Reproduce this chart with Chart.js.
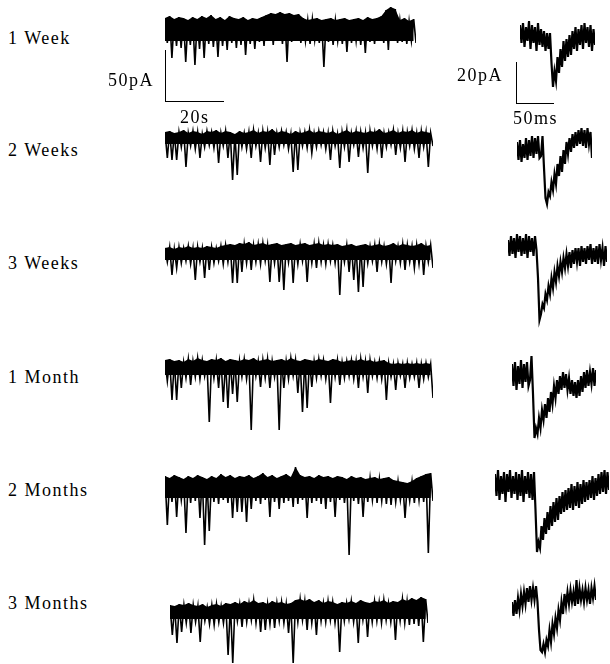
<!DOCTYPE html>
<html>
<head>
<meta charset="utf-8">
<script src="https://cdn.jsdelivr.net/npm/chart.js@4.4.0/dist/chart.umd.min.js"></script>
<style>
  body { margin: 0; width: 610px; height: 664px; overflow: hidden; background: #fff; position: relative;
         font-family: "Liberation Serif", "Times New Roman", serif; }
  .lbl { position: absolute; font-size: 18px; letter-spacing: 1.5px; color: #000; white-space: nowrap; line-height: 18px; }
  canvas { position: absolute; }
  .bar { position: absolute; border-left: 1.5px solid #000; border-bottom: 1.5px solid #000; }
</style>
</head>
<body>
<div id="page"></div>
<script>
// row names
var rowLabels = ["1 Week", "2 Weeks", "3 Weeks", "1 Month", "2 Months", "3 Months"];
var scaleLabels = ["50pA", "20s", "20pA", "50ms"];

// long recordings (pA, relative to the top of the noise band)
var week1Trace = [1,-24,3,-39,0,-27,2,-29,1,-43,
  -1,-26,2,-46,0,-30,3,-39,1,-25,
  4,-28,0,-38,2,-27,-1,-31,3,-24,
  1,-29,0,-26,2,-36,-1,-25,1,-30,
  0,-23,2,-27,4,-22,6,-26,5,-21,
  7,-25,5,-43,6,-23,4,-20,5,-24,
  1,-22,-1,-25,0,-21,1,-24,-1,-48,
  0,-23,1,-26,-1,-22,0,-25,1,-33,
  -1,-24,0,-22,1,-26,-1,-34,2,-23,
  0,-25,1,-22,3,-24,9,-31,12,-20,
  10,-24,-1,-23,1,-25,-2,-22,0,-24];
var weeks2Trace = [1,-25,2,-27,0,-27,1,-14,3,-34,
  0,-13,2,-16,1,-25,-1,-14,2,-12,
  1,-15,3,-30,0,-13,2,-25,1,-47,
  -1,-42,2,-14,0,-16,1,-25,3,-13,
  0,-29,2,-15,1,-32,4,-22,0,-14,
  2,-12,1,-16,-1,-39,2,-37,0,-13,
  1,-15,3,-20,0,-14,2,-12,1,-16,
  0,-27,2,-13,-1,-35,1,-14,3,-29,
  0,-12,2,-24,1,-15,0,-40,2,-13,
  1,-16,4,-25,0,-14,1,-12,3,-22,
  0,-15,2,-29,1,-13,3,-16,0,-25,
  2,-14,1,-34,0,-13];
var weeks3Trace = [-2,-16,-1,-29,-3,-22,-1,-17,-2,-15,
  0,-18,-2,-34,-1,-16,-2,-32,0,-24,
  -1,-17,-2,-15,0,-18,1,-16,2,-37,
  1,-37,3,-26,2,-17,4,-24,1,-16,
  2,-18,3,-15,1,-36,2,-17,3,-36,
  1,-44,2,-16,3,-37,1,-18,2,-15,
  3,-36,1,-17,2,-22,3,-16,1,-18,
  2,-15,1,-17,2,-49,0,-16,1,-26,
  2,-34,0,-46,1,-41,2,-17,0,-15,
  1,-26,2,-16,0,-18,1,-37,3,-15,
  0,-17,2,-24,1,-16,0,-22,1,-18,
  3,-29,0,-16,1,-22];
var month1Trace = [1,-20,2,-39,0,-39,1,-27,-1,-17,
  2,-24,0,-16,3,-18,1,-15,0,-61,
  2,-17,1,-27,3,-41,0,-47,2,-33,
  1,-41,0,-16,2,-18,1,-69,3,-15,
  0,-26,1,-17,2,-27,0,-16,1,-69,
  2,-27,0,-18,3,-15,1,-32,0,-51,
  2,-47,1,-26,0,-17,2,-15,1,-18,
  0,-42,2,-16,1,-24,-1,-17,0,-15,
  1,-18,0,-27,2,-16,0,-32,1,-15,
  -1,-17,0,-18,1,-39,-2,-16,-3,-29,
  -2,-15,-3,-27,-2,-17,-3,-16,-2,-27,
  -3,-18,-2,-16,-3,-37];
var months2Trace = [2,-47,0,-24,3,-39,1,-22,-1,-55,
  2,-25,0,-23,3,-40,1,-67,-1,-53,
  2,-24,0,-26,4,-22,1,-25,3,-40,
  0,-34,2,-34,1,-44,3,-31,0,-23,
  2,-26,5,-22,1,-39,3,-24,0,-31,
  2,-25,4,-23,1,-29,11,-26,3,-22,
  1,-40,2,-25,0,-23,3,-26,1,-31,
  2,-24,0,-39,2,-22,1,-25,-1,-77,
  2,-23,0,-26,1,-39,-1,-24,0,-22,
  1,-25,-1,-23,0,-26,1,-27,-2,-24,
  -3,-22,-4,-40,-5,-23,-3,-25,0,-22,
  2,-24,4,-75,5,-23];
var months3Trace = [0,-30,-1,-38,1,-27,0,-18,2,-28,
  0,-17,-1,-37,1,-16,-2,-19,0,-20,
  1,-17,-1,-18,2,-50,1,-58,3,-16,
  1,-22,4,-17,2,-15,5,-18,2,-27,
  3,-25,1,-19,4,-23,2,-16,3,-18,
  1,-28,2,-58,5,-17,6,-15,4,-25,
  6,-18,3,-30,5,-16,2,-17,4,-15,
  3,-18,1,-47,3,-16,2,-14,4,-17,
  2,-38,5,-15,3,-32,2,-17,4,-16,
  3,-18,5,-15,2,-17,4,-35,3,-16,
  6,-18,4,-20,7,-19,5,-21,8,-37,
  6,-18];

// single events (pA, relative to pre-event baseline)
var week1Event = [-1,-10,0,-12,-2,-9,1,-13,-1,-10,
  -2,-14,0,-11,-3,-12,-4,-14,-5,-13,
  -5,-20,-32,-24,-29,-17,-25,-13,-22,-9,
  -19,-8,-17,-6,-16,-4,-13,-2,-14,-3,
  -11,-1,-13,0,-10,-2,-12,-1,-14,-3,
  -11];
var weeks2Event = [-1,-10,0,-11,-2,-9,1,-10,0,-8,
  2,-9,1,-7,2,-9,-8,2,-14,-29,
  -32,-26,-28,-21,-25,-17,-22,-12,-18,-8,
  -16,-5,-12,-1,-7,1,-6,3,-4,4,
  -3,5,-2,6,-3,5,-4,6,-2,4,
  -9];
var weeks3Event = [-1,-9,1,-8,0,-10,2,-7,1,-9,
  0,-8,2,-10,1,-7,0,-9,1,-6,
  -20,-41,-38,-33,-35,-28,-31,-24,-28,-20,
  -25,-17,-22,-14,-19,-12,-17,-10,-15,-8,
  -14,-7,-15,-6,-13,-5,-12,-5,-14,-4,
  -12,-5,-13,-4,-11,-3,-13,-5,-12,-4,
  -13,-3,-11,-5,-14,-4,-12];
var month1Event = [-1,-12,0,-14,-2,-11,1,-13,-1,-10,
  0,-12,-9,3,-16,-38,-33,-36,-28,-33,
  -24,-29,-21,-28,-18,-25,-15,-21,-12,-18,
  -9,-16,-7,-14,-5,-13,-6,-14,-8,-16,
  -9,-17,-10,-18,-9,-17,-7,-15,-5,-13,
  -4,-12,-5,-11,-3,-12,-4];
var months2Event = [-2,-13,0,-15,-3,-12,-1,-16,-2,-11,
  0,-14,-3,-12,-1,-15,-2,-13,0,-16,
  -3,-12,-1,-14,-2,-15,-1,-20,-41,-36,
  -39,-28,-35,-24,-32,-21,-30,-18,-28,-16,
  -26,-14,-25,-13,-22,-11,-21,-10,-20,-9,
  -19,-7,-20,-8,-18,-6,-19,-7,-17,-5,
  -16,-6,-15,-5,-14,-3,-15,-4,-13,-2,
  -12,-1,-11,0,-12,-1,-10];
var months3Event = [-1,-8,0,-7,1,-5,3,-3,4,-2,
  6,-1,7,0,6,0,7,-1,-15,-25,
  -26,-22,-26,-20,-23,-15,-21,-12,-17,-9,
  -14,-5,-10,-1,-7,3,-3,4,-2,5,
  -1,4,-3,10,-2,6,0,5,-1,6,
  0,5,-2,6,1,7,0];

var longTraces = [week1Trace, weeks2Trace, weeks3Trace, month1Trace, months2Trace, months3Trace];
var eventTraces = [week1Event, weeks2Event, weeks3Event, month1Event, months2Event, months3Event];

// layout (px)
var labelTops = [29, 141, 254, 368, 481, 594];
var longBox = [[165, 4, 251], [165, 118, 268], [165, 231, 268], [165, 346, 268], [165, 463, 268], [170, 590, 258]];
var longCore = [-22, -11, -14, -14, -20, -14];
var eventBox = [[520, -1, 75], [517, 116, 75], [508, 214, 99], [512, 338, 84], [495, 446, 114], [512, 576, 84]];

var page = document.getElementById("page");

function addLabel(text, left, top) {
  var d = document.createElement("div");
  d.className = "lbl";
  d.textContent = text;
  d.style.left = left + "px";
  d.style.top = top + "px";
  page.appendChild(d);
}

function addCanvas(left, top, w, h) {
  var c = document.createElement("canvas");
  c.width = w; c.height = h;
  c.style.left = left + "px"; c.style.top = top + "px";
  c.style.width = w + "px"; c.style.height = h + "px";
  page.appendChild(c);
  return c;
}

function drawTrace(canvas, values, yMin, yMax, core, lw) {
  var pts = values.map(function (v, i) { return { x: i, y: v }; });
  var datasets = [{
    data: pts, borderColor: "#000", borderWidth: lw, pointRadius: 0, tension: 0, fill: false
  }];
  if (core !== null) {
    datasets.push({
      data: pts.filter(function (p, i) { return i % 2 === 0; }),
      borderWidth: 0, pointRadius: 0, tension: 0, backgroundColor: "#000",
      fill: { value: core }
    });
  }
  new Chart(canvas, {
    type: "line",
    data: { datasets: datasets },
    options: {
      responsive: false,
      animation: false,
      events: [],
      layout: { padding: 0 },
      plugins: { legend: { display: false }, tooltip: { enabled: false } },
      scales: {
        x: { type: "linear", display: false, min: 0, max: values.length - 1 },
        y: { display: false, min: yMin, max: yMax }
      }
    }
  });
}

rowLabels.forEach(function (t, i) { addLabel(t, 8, labelTops[i]); });

longTraces.forEach(function (vals, i) {
  var b = longBox[i];
  drawTrace(addCanvas(b[0], b[1], b[2], 95), vals, -80, 15, longCore[i], 1.6);
});

eventTraces.forEach(function (vals, i) {
  var b = eventBox[i];
  drawTrace(addCanvas(b[0], b[1], b[2], 114), vals, -45, 12, null, 2.2);
});

// scale bars
function addBar(left, top, w, h) {
  var d = document.createElement("div");
  d.className = "bar";
  d.style.left = left + "px"; d.style.top = top + "px";
  d.style.width = w + "px"; d.style.height = h + "px";
  page.appendChild(d);
}
addBar(165, 50, 58, 51);
addBar(516, 62, 37, 41);
addLabel(scaleLabels[0], 108, 71);
addLabel(scaleLabels[1], 180, 108);
addLabel(scaleLabels[2], 457, 66);
addLabel(scaleLabels[3], 513, 109);
</script>
</body>
</html>
